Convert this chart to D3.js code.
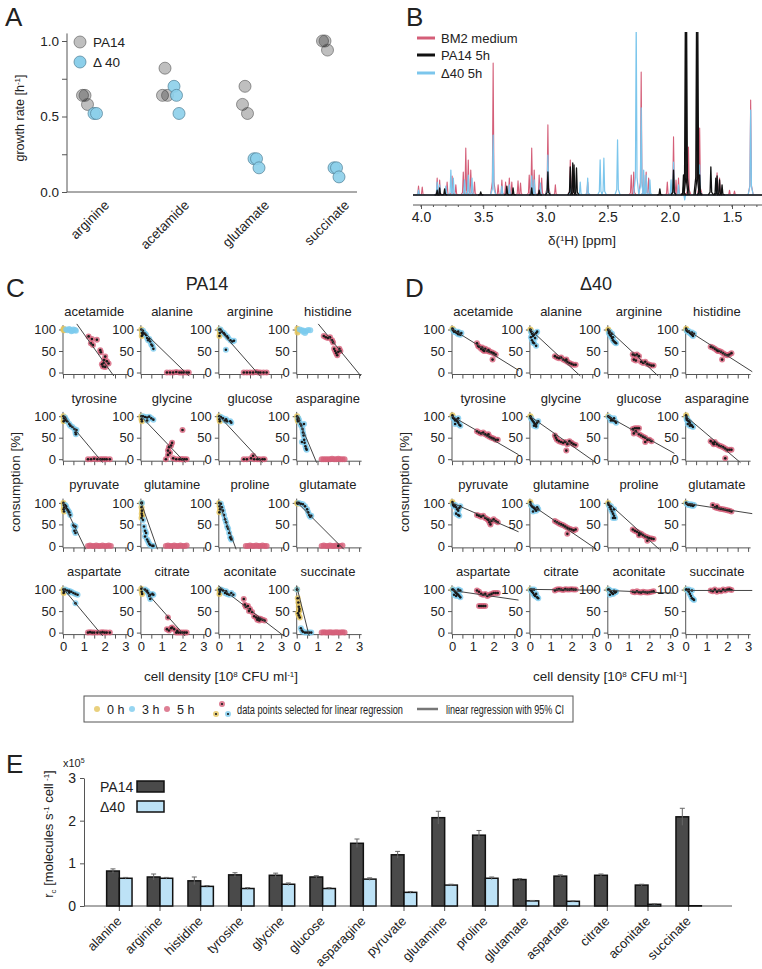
<!DOCTYPE html>
<html><head><meta charset="utf-8">
<script src="https://cdn.jsdelivr.net/npm/d3@7"></script>
<style>
body{margin:0;background:#fff;}
svg text{font-family:"Liberation Sans",Arial,sans-serif;fill:#222;}
</style></head><body>
<svg id="fig" width="762" height="969"></svg>
<script>
// ---------------- DATA ----------------
// Panel A: growth rates
const growthCats = ["arginine","acetamide","glutamate","succinate"];
const growthPA14 = [[0.64,0.64,0.58],[0.64,0.82,0.64],[0.58,0.70,0.52],[1.00,1.00,0.94]];
const growthD40  = [[0.52,0.52],[0.70,0.64,0.52],[0.22,0.22,0.16],[0.16,0.16,0.10]];
const growthTicks = [0,0.25,0.5,0.75,1];

// Panel B: NMR peak lists [ppm, intensity]
const bm2Peaks = [[4.02,5.6],[3.99,5],[3.87,10.6],[3.85,9.4],[3.79,8.1],[3.75,11.9],[3.72,6.3],[3.66,14.4],[3.64,29.4],[3.62,21.9],[3.60,15.6],[3.57,8.1],[3.42,82.5],[3.38,6.3],[3.35,9.4],[3.32,8.1],[3.29,10.6],[3.27,8.1],[3.22,8.8],[3.20,7.5],[3.13,12.5],[3.11,29.4],[3.09,15.6],[3.05,12.5],[3.03,10.6],[2.98,43.8],[2.92,6.3],[2.80,21.9],[2.78,16.9],[2.66,8.1],[2.31,12.5],[2.29,14.4],[2.23,76.9],[2.21,12.5],[2.19,14.4],[2.17,10.6],[2.02,8.1],[1.97,36.3],[1.95,9.4],[1.93,10.6],[1.85,30],[1.76,41.9],[1.62,13.8],[1.60,10.6],[1.52,3],[1.48,2.5],[1.35,59.4]];
const d40Peaks = [[4.02,3.1],[3.87,8.1],[3.85,6.3],[3.80,5.6],[3.76,15.6],[3.74,10.6],[3.65,9.4],[3.62,12.5],[3.59,10.6],[3.42,37.5],[3.35,5.6],[3.29,6.3],[3.11,11.9],[3.09,9.4],[3.04,7.5],[2.98,25],[2.80,10.6],[2.72,8.1],[2.66,10.6],[2.56,21.9],[2.53,23.1],[2.42,34.4],[2.27,110],[2.23,54.4],[2.21,15.6],[2.19,12.5],[2.16,9.4],[1.99,9.4],[1.97,20.6],[1.93,6.3],[1.88,-3],[1.76,18.8],[1.62,9.4],[1.35,53.1]];
const pa14Peaks = [[3.87,3],[3.85,4.4],[3.81,3.8],[3.52,1.9],[3.31,5.6],[3.26,4.4],[3.11,4.4],[3.05,3.1],[2.98,14.4],[2.80,17.5],[2.78,20],[2.77,18.8],[2.75,16.9],[2.08,3.8],[1.97,15.6],[1.89,12.5],[1.875,110],[1.865,110],[1.785,110],[1.775,110],[1.76,12.5],[1.67,17.5],[1.63,10.6],[1.62,11.9],[1.60,9.4],[1.58,6.3]];
const ppmMajor = [4.0,3.5,3.0,2.5,2.0,1.5];
const ppmMinor = [4.0,3.9,3.8,3.7,3.6,3.5,3.4,3.3,3.2,3.1,3.0,2.9,2.8,2.7,2.6,2.5,2.4,2.3,2.2,2.1,2.0,1.9,1.8,1.7,1.6,1.5,1.4,1.3];

// Panels C/D: consumption vs cell density; points [x, y, hour, selected]
const subNames = ["acetamide","alanine","arginine","histidine","tyrosine","glycine","glucose","asparagine","pyruvate","glutamine","proline","glutamate","aspartate","citrate","aconitate","succinate"];
const densTicks = [0,0.5,1,1.5,2,2.5,3];
const consTicks = [0,50,100];
const pa14Fit = [[158,-68],[101,-47],[101,-55],[174,-59],[102,-57.6],[100,-50.5],[101,-52],[103,-116],[101,-100],[102,-137],[102,-132],[102,-48.5],[103,-58],[108,-54.5],[108,-37],[108,-193]];
const d40Fit  = [[101,-30],[101,-45],[101,-45],[101,-31],[100,-28],[100,-34],[100,-27],[100,-41],[100,-21],[98,-33],[101,-44],[99,-7.5],[98,-7],[100.5,-0.6],[98,-2],[98,0]];
const pa14Pts = [
 [[0.03,102,0,0],[0.06,98,0,0],[0.02,99,0,0],[0.15,100,3,0],[0.22,98,3,0],[0.3,101,3,0],[0.35,99,3,0],[0.45,97,3,0],[0.5,100,3,0],[0.58,99,3,0],[0.62,97,3,0],[0.4,96,3,0],
  [1.23,84,5,1],[1.39,78,5,1],[1.34,68,5,1],[1.44,64,5,1],[1.63,76,5,1],[1.79,52,5,1],[1.82,47,5,1],[2.03,37,5,1],[1.95,22,5,1],[1.92,14,5,1],[2.03,13,5,1],[2.19,21,5,1],[2.11,26,5,1],[1.87,19,5,1],[1.98,29,5,1]],
 [[0.02,100,0,1],[0.05,92,0,1],[0.08,88,0,1],[0.04,85,0,1],[0.1,97,3,1],[0.15,92,3,1],[0.2,90,3,1],[0.25,87,3,1],[0.3,80,3,1],[0.35,75,3,1],[0.4,78,3,1],[0.45,72,3,1],[0.5,65,3,1],[0.55,62,3,1],[0.6,55,3,1],
  [1.25,0,5,1],[1.4,0,5,1],[1.55,0,5,1],[1.7,1,5,1],[1.85,0,5,1],[1.95,0,5,1],[2.05,0,5,1],[2.2,0,5,1],[2.3,0,5,1]],
 [[0.02,100,0,1],[0.05,92,0,1],[0.03,85,0,1],[0.08,100,3,1],[0.15,95,3,1],[0.24,92,3,1],[0.3,88,3,1],[0.4,84,3,1],[0.45,80,3,1],[0.56,75,3,1],[0.65,72,3,1],[0.73,74,3,1],[0.34,53,3,1],
  [1.2,0,5,1],[1.35,0,5,1],[1.5,0,5,1],[1.65,0,5,1],[1.8,1,5,1],[1.9,0,5,1],[2.0,0,5,1],[2.15,0,5,1],[2.3,0,5,1]],
 [[0.03,102,0,0],[0.06,97,0,0],[0.04,93,0,0],[0.15,100,3,0],[0.25,98,3,0],[0.35,97,3,0],[0.45,96,3,0],[0.55,99,3,0],[0.65,98,3,0],[0.4,92,3,0],[0.3,95,3,0],
  [1.3,85,5,1],[1.4,82,5,1],[1.5,80,5,1],[1.6,82,5,1],[1.7,75,5,1],[1.75,70,5,1],[1.8,55,5,1],[1.85,50,5,1],[1.9,45,5,1],[1.95,40,5,1],[2.0,48,5,1],[2.05,55,5,1],[2.1,50,5,1]],
 [[0.02,100,0,1],[0.05,95,0,1],[0.08,90,0,1],[0.03,88,0,1],[0.1,97,3,1],[0.15,92,3,1],[0.2,88,3,1],[0.3,82,3,1],[0.35,78,3,1],[0.45,75,3,1],[0.55,70,3,1],[0.6,62,3,1],[0.62,58,3,1],[0.65,68,3,1],
  [1.2,0,5,1],[1.35,0,5,1],[1.5,1,5,1],[1.65,0,5,1],[1.8,0,5,1],[1.9,0,5,1],[2.0,0,5,1],[2.1,0,5,1],[2.25,0,5,1]],
 [[0.02,100,0,1],[0.03,93,0,1],[0.05,88,0,1],[0.1,100,3,1],[0.2,98,3,1],[0.3,97,3,1],[0.4,99,3,1],[0.5,95,3,1],[0.6,92,3,1],[0.3,90,3,1],
  [1.3,20,5,1],[1.35,28,5,1],[1.45,32,5,1],[1.4,15,5,1],[1.5,38,5,1],[1.3,10,5,1],[1.2,0,5,1],[1.55,2,5,1],[1.7,0,5,1],[1.85,0,5,1],[1.95,0,5,1],[2.0,0,5,1],[2.1,0,5,1],[2.2,0,5,1],[2.0,68,5,1]],
 [[0.02,100,0,1],[0.03,93,0,1],[0.05,88,0,1],[0.1,98,3,1],[0.2,95,3,1],[0.3,90,3,1],[0.35,93,3,1],[0.4,88,3,1],[0.55,88,3,1],[0.6,85,3,1],
  [1.2,0,5,1],[1.35,0,5,1],[1.55,2,5,1],[1.65,8,5,1],[1.7,0,5,1],[1.85,0,5,1],[1.95,0,5,1],[2.1,0,5,1],[2.2,0,5,1]],
 [[0.02,100,0,1],[0.04,92,0,1],[0.06,88,0,1],[0.05,96,0,1],[0.08,95,3,1],[0.12,90,3,1],[0.18,82,3,1],[0.22,78,3,1],[0.28,70,3,1],[0.3,62,3,1],[0.33,55,3,1],[0.36,45,3,1],[0.38,38,3,1],[0.42,30,3,1],[0.45,25,3,1],[0.48,22,3,1],[0.25,40,3,1],[0.35,82,3,1],
  [1.2,0,5,0],[1.3,0,5,0],[1.4,0,5,0],[1.5,0,5,0],[1.6,0,5,0],[1.7,1,5,0],[1.8,0,5,0],[1.9,0,5,0],[2.0,1,5,0],[2.1,0,5,0],[2.2,0,5,0],[2.3,0,5,0]],
 [[0.02,100,0,1],[0.04,95,0,1],[0.06,90,0,1],[0.03,85,0,1],[0.05,80,0,1],[0.1,95,3,1],[0.15,92,3,1],[0.15,88,3,1],[0.2,85,3,1],[0.25,82,3,1],[0.3,78,3,1],[0.35,72,3,1],[0.5,48,3,1],[0.55,45,3,1],[0.6,45,3,1],[0.55,35,3,1],[0.6,30,3,1],
  [1.2,0,5,0],[1.3,1,5,0],[1.4,0,5,0],[1.5,0,5,0],[1.6,1,5,0],[1.7,0,5,0],[1.8,0,5,0],[1.9,1,5,0],[2.0,0,5,0],[2.1,0,5,0],[2.2,1,5,0],[2.3,0,5,0]],
 [[0.02,100,0,1],[0.03,90,0,1],[0.05,82,0,1],[0.04,75,0,1],[0.06,70,0,1],[0.03,65,0,1],[0.05,100,3,1],[0.1,60,3,1],[0.15,45,3,1],[0.2,35,3,1],[0.25,30,3,1],[0.2,22,3,1],[0.3,15,3,1],[0.35,10,3,1],[0.4,5,3,1],[0.45,2,3,1],[0.55,0,3,1],[0.6,0,3,1],
  [1.2,0,5,0],[1.3,1,5,0],[1.4,0,5,0],[1.5,0,5,0],[1.6,1,5,0],[1.7,0,5,0],[1.8,0,5,0],[1.9,1,5,0],[2.0,0,5,0],[2.1,0,5,0],[2.2,1,5,0]],
 [[0.02,100,0,1],[0.04,92,0,1],[0.06,85,0,1],[0.03,78,0,1],[0.1,98,3,1],[0.15,90,3,1],[0.2,82,3,1],[0.25,72,3,1],[0.3,62,3,1],[0.35,55,3,1],[0.4,45,3,1],[0.45,40,3,1],[0.5,30,3,1],[0.55,20,3,1],[0.6,15,3,1],[0.58,18,3,1],
  [1.3,0,5,0],[1.4,0,5,0],[1.5,1,5,0],[1.6,0,5,0],[1.7,0,5,0],[1.8,1,5,0],[1.9,0,5,0],[2.0,0,5,0],[2.1,1,5,0],[2.2,0,5,0],[2.3,0,5,0]],
 [[0.02,100,0,1],[0.05,98,0,1],[0.1,100,3,1],[0.2,98,3,1],[0.3,97,3,1],[0.4,92,3,1],[0.5,85,3,1],[0.55,78,3,1],[0.6,72,3,1],[0.7,70,3,1],[0.65,68,3,1],
  [1.2,0,5,0],[1.3,1,5,0],[1.4,0,5,0],[1.5,0,5,0],[1.6,1,5,0],[1.7,0,5,0],[1.8,0,5,0],[1.9,1,5,0],[2.0,0,5,1],[2.1,0,5,0],[2.2,1,5,0]],
 [[0.02,100,0,1],[0.05,95,0,1],[0.03,92,0,1],[0.1,100,3,1],[0.2,98,3,1],[0.3,97,3,1],[0.3,93,3,1],[0.4,95,3,1],[0.5,92,3,1],[0.6,90,3,1],[0.7,88,3,1],[0.6,68,3,1],
  [1.2,0,5,1],[1.3,1,5,1],[1.4,0,5,1],[1.5,0,5,1],[1.65,0,5,1],[1.8,0,5,1],[1.9,1,5,1],[2.0,0,5,1],[2.1,0,5,1],[2.25,0,5,1]],
 [[0.02,102,0,1],[0.04,95,0,1],[0.06,90,0,1],[0.2,100,3,1],[0.3,97,3,1],[0.35,92,3,1],[0.4,85,3,1],[0.45,88,3,1],[0.45,78,3,1],[0.55,90,3,1],[0.6,88,3,1],
  [1.3,35,5,1],[1.25,8,5,1],[1.35,5,5,1],[1.45,10,5,1],[1.5,12,5,1],[1.6,8,5,1],[1.7,0,5,1],[1.75,4,5,1],[1.8,0,5,1],[1.9,0,5,1],[2.0,0,5,1],[2.1,0,5,1],[2.2,0,5,1]],
 [[0.02,100,0,1],[0.05,95,0,1],[0.03,90,0,1],[0.1,100,3,1],[0.2,98,3,1],[0.3,92,3,1],[0.35,96,3,1],[0.4,90,3,1],[0.5,88,3,1],[0.6,92,3,1],[0.7,88,3,1],
  [1.2,78,5,1],[1.25,65,5,1],[1.3,60,5,1],[1.4,62,5,1],[1.45,50,5,1],[1.5,55,5,1],[1.6,48,5,1],[1.7,38,5,1],[1.8,35,5,1],[1.85,30,5,1],[1.9,33,5,1],[1.95,28,5,1],[2.0,32,5,1],[2.1,30,5,1],[2.2,28,5,1]],
 [[0.02,100,0,1],[0.05,80,0,1],[0.08,70,0,1],[0.1,60,0,1],[0.13,55,0,1],[0.12,50,0,1],[0.06,45,0,1],[0.1,40,0,1],[0.15,35,0,1],[0.02,100,3,1],[0.2,10,3,1],[0.25,5,3,1],[0.3,2,3,1],[0.4,0,3,1],[0.5,0,3,1],[0.6,0,3,1],[0.7,0,3,1],
  [1.2,0,5,0],[1.3,1,5,0],[1.4,0,5,0],[1.5,0,5,0],[1.6,1,5,0],[1.7,0,5,0],[1.8,0,5,0],[1.9,1,5,0],[2.0,0,5,0],[2.1,0,5,0],[2.2,1,5,0],[2.3,0,5,0]]
];
const d40Pts = [
 [[0.02,102,0,1],[0.05,100,0,1],[0.05,98,3,1],[0.1,95,3,1],[0.15,96,3,1],[0.2,93,3,1],[0.25,92,3,1],[0.3,95,3,1],[0.35,90,3,1],[0.4,88,3,1],[0.45,92,3,1],[0.3,89,3,1],
  [1.2,68,5,1],[1.25,62,5,1],[1.3,60,5,1],[1.4,55,5,1],[1.45,58,5,1],[1.5,52,5,1],[1.55,50,5,1],[1.6,55,5,1],[1.7,50,5,1],[1.75,52,5,1],[1.8,48,5,1],[1.9,47,5,1],[2.0,45,5,1],[2.1,42,5,1],[1.95,30,5,1]],
 [[0.02,100,0,1],[0.04,98,0,1],[0.05,95,3,1],[0.1,90,3,1],[0.15,85,3,1],[0.2,88,3,1],[0.25,80,3,1],[0.3,92,3,1],[0.35,95,3,1],[0.1,75,3,1],[0.15,70,3,1],[0.2,68,3,1],[0.3,62,3,1],[0.05,82,3,1],
  [1.2,38,5,1],[1.3,35,5,1],[1.4,33,5,1],[1.5,35,5,1],[1.6,30,5,1],[1.7,28,5,1],[1.75,30,5,1],[1.8,25,5,1],[1.9,22,5,1],[2.0,20,5,1],[2.1,18,5,1],[2.2,18,5,1]],
 [[0.02,100,0,1],[0.04,97,0,1],[0.05,92,3,1],[0.1,88,3,1],[0.15,85,3,1],[0.2,80,3,1],[0.25,75,3,1],[0.3,72,3,1],[0.35,70,3,1],[0.1,95,3,1],[0.2,90,3,1],[0.25,82,3,1],[0.4,68,3,1],
  [1.2,42,5,1],[1.3,40,5,1],[1.4,42,5,1],[1.5,38,5,1],[1.25,30,5,1],[1.35,28,5,1],[1.6,25,5,1],[1.7,22,5,1],[1.8,25,5,1],[1.9,20,5,1],[2.0,18,5,1],[2.1,16,5,1],[2.2,16,5,1]],
 [[0.02,102,0,1],[0.04,99,0,1],[0.05,97,3,1],[0.1,95,3,1],[0.15,96,3,1],[0.2,92,3,1],[0.25,90,3,1],[0.3,88,3,1],[0.35,85,3,1],[0.4,90,3,1],[0.3,93,3,1],
  [1.2,60,5,1],[1.3,58,5,1],[1.4,55,5,1],[1.5,52,5,1],[1.55,50,5,1],[1.6,50,5,1],[1.7,48,5,1],[1.8,45,5,1],[1.9,42,5,1],[2.0,40,5,1],[2.1,42,5,1],[2.2,45,5,1],[1.75,30,5,1]],
 [[0.02,102,0,1],[0.04,98,0,1],[0.05,96,3,1],[0.1,94,3,1],[0.15,90,3,1],[0.2,92,3,1],[0.25,88,3,1],[0.3,85,3,1],[0.35,80,3,1],[0.4,78,3,1],[0.3,95,3,1],[0.15,82,3,1],
  [1.2,65,5,1],[1.3,62,5,1],[1.4,60,5,1],[1.5,62,5,1],[1.6,58,5,1],[1.7,55,5,1],[1.75,58,5,1],[1.8,52,5,1],[1.9,50,5,1],[2.0,48,5,1],[2.1,45,5,1],[2.2,45,5,1]],
 [[0.02,100,0,1],[0.04,98,0,1],[0.05,95,3,1],[0.1,92,3,1],[0.15,88,3,1],[0.2,85,3,1],[0.25,82,3,1],[0.3,80,3,1],[0.35,85,3,1],[0.4,88,3,1],[0.2,78,3,1],[0.3,76,3,1],
  [1.2,55,5,1],[1.25,50,5,1],[1.3,45,5,1],[1.4,42,5,1],[1.5,40,5,1],[1.6,38,5,1],[1.7,40,5,1],[1.8,35,5,1],[1.9,42,5,1],[2.0,38,5,1],[2.1,35,5,1],[2.2,33,5,1],[1.75,20,5,1]],
 [[0.02,100,0,1],[0.05,98,3,1],[0.1,97,3,1],[0.15,95,3,1],[0.2,92,3,1],[0.25,90,3,1],[0.3,95,3,1],[0.35,88,3,1],[0.4,85,3,1],[0.15,90,3,1],
  [1.2,70,5,1],[1.3,72,5,1],[1.4,72,5,1],[1.5,72,5,1],[1.25,60,5,1],[1.35,65,5,1],[1.5,58,5,1],[1.6,55,5,1],[1.7,52,5,1],[1.8,50,5,1],[1.9,45,5,1],[2.0,45,5,1],[2.1,42,5,1],[1.8,40,5,1]],
 [[0.02,102,0,1],[0.04,98,0,1],[0.05,95,3,1],[0.1,90,3,1],[0.15,88,3,1],[0.2,85,3,1],[0.25,80,3,1],[0.3,78,3,1],[0.35,75,3,1],[0.1,82,3,1],[0.2,78,3,1],[0.05,92,3,1],
  [1.2,42,5,1],[1.3,38,5,1],[1.35,35,5,1],[1.4,40,5,1],[1.5,35,5,1],[1.6,32,5,1],[1.7,30,5,1],[1.8,28,5,1],[1.9,25,5,1],[2.0,22,5,1],[2.1,22,5,1],[2.2,22,5,1],[1.9,2,5,1]],
 [[0.02,102,0,1],[0.04,98,0,1],[0.05,95,3,1],[0.1,92,3,1],[0.15,95,3,1],[0.2,90,3,1],[0.25,85,3,1],[0.3,82,3,1],[0.35,88,3,1],[0.4,92,3,1],[0.2,75,3,1],[0.3,72,3,1],[0.35,70,3,1],
  [1.2,72,5,1],[1.3,70,5,1],[1.4,68,5,1],[1.5,70,5,1],[1.6,65,5,1],[1.7,62,5,1],[1.75,60,5,1],[1.8,55,5,1],[1.85,50,5,1],[1.9,58,5,1],[2.0,62,5,1],[2.1,58,5,1],[2.2,55,5,1]],
 [[0.02,102,0,1],[0.04,97,0,1],[0.05,95,3,1],[0.1,92,3,1],[0.15,90,3,1],[0.2,88,3,1],[0.25,85,3,1],[0.3,82,3,1],[0.35,90,3,1],[0.4,85,3,1],[0.15,80,3,1],
  [1.2,58,5,1],[1.3,55,5,1],[1.4,52,5,1],[1.5,50,5,1],[1.6,48,5,1],[1.7,45,5,1],[1.8,42,5,1],[1.9,40,5,1],[2.0,38,5,1],[2.1,36,5,1],[2.2,38,5,1],[1.8,28,5,1]],
 [[0.02,100,0,1],[0.04,96,0,1],[0.05,95,3,1],[0.1,90,3,1],[0.15,85,3,1],[0.2,80,3,1],[0.25,75,3,1],[0.3,70,3,1],[0.35,65,3,1],[0.25,65,3,1],[0.15,92,3,1],[0.3,85,3,1],
  [1.2,38,5,1],[1.3,35,5,1],[1.4,33,5,1],[1.5,30,5,1],[1.5,25,5,1],[1.6,28,5,1],[1.7,25,5,1],[1.8,22,5,1],[1.9,20,5,1],[1.9,12,5,1],[2.0,18,5,1],[2.1,17,5,1],[2.2,16,5,1]],
 [[0.02,100,0,1],[0.05,98,3,1],[0.1,96,3,1],[0.15,95,3,1],[0.2,97,3,1],[0.25,94,3,1],[0.3,96,3,1],[0.35,93,3,1],[0.4,95,3,1],
  [1.3,95,5,1],[1.4,90,5,1],[1.5,88,5,1],[1.5,92,5,1],[1.6,87,5,1],[1.7,86,5,1],[1.8,85,5,1],[1.9,84,5,1],[2.0,83,5,1],[2.1,82,5,1],[2.2,80,5,1]],
 [[0.02,100,0,1],[0.05,100,3,1],[0.1,98,3,1],[0.15,95,3,1],[0.2,92,3,1],[0.25,90,3,1],[0.3,88,3,1],[0.35,85,3,1],[0.4,82,3,1],[0.1,88,3,1],[0.2,85,3,1],[0.3,100,3,1],[0.4,98,3,1],
  [1.2,98,5,1],[1.3,95,5,1],[1.4,90,5,1],[1.5,88,5,1],[1.6,90,5,1],[1.7,85,5,1],[1.8,88,5,1],[1.9,90,5,1],[2.0,92,5,1],[2.1,92,5,1],[2.2,92,5,1],[1.3,62,5,1],[1.4,62,5,1],[1.5,62,5,1],[1.6,62,5,1]],
 [[0.02,100,0,1],[0.05,98,3,1],[0.1,95,3,1],[0.15,92,3,1],[0.2,88,3,1],[0.25,85,3,1],[0.3,90,3,1],[0.35,82,3,1],[0.4,80,3,1],[0.2,100,3,1],[0.1,100,3,1],
  [1.2,98,5,1],[1.3,100,5,1],[1.4,101,5,1],[1.5,100,5,1],[1.6,99,5,1],[1.7,101,5,1],[1.8,100,5,1],[1.9,100,5,1],[2.0,101,5,1],[2.1,100,5,1],[2.2,100,5,1]],
 [[0.02,100,0,1],[0.05,100,3,1],[0.1,98,3,1],[0.15,95,3,1],[0.2,92,3,1],[0.25,90,3,1],[0.3,97,3,1],[0.35,93,3,1],[0.4,95,3,1],[0.1,88,3,1],
  [1.2,95,5,1],[1.3,94,5,1],[1.4,96,5,1],[1.5,94,5,1],[1.6,93,5,1],[1.7,95,5,1],[1.8,94,5,1],[1.9,93,5,1],[2.0,94,5,1],[2.1,95,5,1],[2.2,96,5,1]],
 [[0.02,100,0,1],[0.05,100,3,1],[0.1,98,3,1],[0.15,95,3,1],[0.2,90,3,1],[0.25,85,3,1],[0.3,80,3,1],[0.35,78,3,1],[0.4,76,3,1],[0.15,100,3,1],[0.3,98,3,1],
  [1.2,98,5,1],[1.3,96,5,1],[1.4,100,5,1],[1.5,95,5,1],[1.6,98,5,1],[1.7,96,5,1],[1.8,100,5,1],[1.9,98,5,1],[2.0,100,5,1],[2.1,101,5,1],[2.2,99,5,1]]
];

// Panel E: consumption rates (x10^5 molecules s^-1 cell^-1)
const rateCats = ["alanine","arginine","histidine","tyrosine","glycine","glucose","asparagine","pyruvate","glutamine","proline","glutamate","aspartate","citrate","aconitate","succinate"];
const ratePA14    = [0.82,0.68,0.59,0.73,0.72,0.68,1.47,1.20,2.07,1.66,0.62,0.70,0.72,0.49,2.09];
const ratePA14Err = [0.05,0.07,0.09,0.05,0.05,0.03,0.10,0.08,0.15,0.11,0.02,0.03,0.03,0.02,0.20];
const rateD40     = [0.65,0.65,0.46,0.41,0.51,0.41,0.63,0.32,0.49,0.65,0.12,0.11,0,0.04,0.006];
const rateD40Err  = [0.02,0.02,0.02,0.02,0.03,0.02,0.03,0.02,0.02,0.03,0.01,0.01,0,0.01,0];
const rateTicks = [0,1,2,3];

// ---------------- DRAWING ----------------
const svg = d3.select("#fig");
const AX = "#555";
function styleAxis(g, fs){
  g.attr("font-size", fs).attr("font-family", null);
  g.selectAll(".tick line").attr("stroke", AX);
  g.select(".domain").attr("stroke", AX);
  g.selectAll(".tick text").attr("fill", "#222");
}
[["A",5,26],["B",406,26],["C",6,297],["D",405,297],["E",6,773]].forEach(([t,x,y]) =>
  svg.append("text").attr("x",x).attr("y",y).attr("font-size",26).text(t));

// ---- Panel A ----
(function(){
  const g = svg.append("g");
  const x = d3.scaleBand().domain(growthCats).range([50,370]);
  const y = d3.scaleLinear().domain([0,1]).range([192,41]);
  const ya = g.append("g").attr("transform","translate(67,0)")
    .call(d3.axisLeft(y).tickValues(growthTicks).tickSize(5).tickPadding(3).tickSizeOuter(0)
      .tickFormat(d => (d===0||d===0.5||d===1) ? d3.format(".1f")(d) : ""));
  styleAxis(ya, 13.5);
  ya.select(".domain").attr("d", `M0,${y(0)}V${y(1.05)}`);
  g.append("line").attr("x1",67).attr("x2",357).attr("y1",y(0)).attr("y2",y(0)).attr("stroke",AX);
  const cx = c => x(c) + x.bandwidth()/2;
  growthCats.forEach((c,ci) => {
    growthPA14[ci].forEach((v,i) => g.append("circle").attr("cx", cx(c)-7.5+i*2.5).attr("cy", y(v)).attr("r",6)
      .attr("fill","#000").attr("fill-opacity",0.25).attr("stroke","#555").attr("stroke-opacity",0.6));
    growthD40[ci].forEach((v,i) => g.append("circle").attr("cx", cx(c)+4+i*2.5).attr("cy", y(v)).attr("r",6)
      .attr("fill","#8ccfea").attr("fill-opacity",0.9).attr("stroke","#4f7f95").attr("stroke-opacity",0.7));
  });
  growthCats.forEach(c => g.append("text").attr("transform",`translate(${cx(c)+20},206) rotate(-45)`)
    .attr("text-anchor","end").attr("font-size",13.5).text(c));
  const yl = g.append("text").attr("transform","translate(24,118) rotate(-90)").attr("text-anchor","middle").attr("font-size",12.5);
  yl.append("tspan").text("growth rate [h");
  yl.append("tspan").attr("dy",-4).attr("font-size",8).text("-1");
  yl.append("tspan").attr("dy",4).text("]");
  g.append("circle").attr("cx",80).attr("cy",42).attr("r",6).attr("fill","#000").attr("fill-opacity",0.25).attr("stroke","#555").attr("stroke-opacity",0.6);
  g.append("circle").attr("cx",80).attr("cy",62).attr("r",6).attr("fill","#8ccfea").attr("stroke","#4f7f95").attr("stroke-opacity",0.7);
  g.append("text").attr("x",93).attr("y",47).attr("font-size",13.5).text("PA14");
  g.append("text").attr("x",93).attr("y",67).attr("font-size",13.5).text("Δ 40");
})();

// ---- Panel B ----
(function(){
  const g = svg.append("g");
  const x = d3.scaleLinear().domain([4.0,1.5]).range([421,732]);
  const y = d3.scaleLinear().domain([0,100]).range([195,35]);
  svg.append("defs").append("clipPath").attr("id","clipB").append("rect")
    .attr("x",413).attr("y",32).attr("width",349).attr("height",171);
  const sg = g.append("g").attr("clip-path","url(#clipB)");
  const spike = ([p,h]) => {
    const xc = x(p), y0 = y(0), ym = y(h*0.1), yt = y(h);
    return `M${xc-2.6},${y0}L${xc-0.8},${ym}L${xc},${yt}L${xc+0.8},${ym}L${xc+2.6},${y0}`;
  };
  [[bm2Peaks,"#d45e78",1.1],[d40Peaks,"#7cc6ec",1.2],[pa14Peaks,"#111",1.3]].forEach(([pk,col,w]) => {
    sg.append("line").attr("x1",413).attr("x2",762).attr("y1",y(0)).attr("y2",y(0)).attr("stroke",col).attr("stroke-width",w);
    sg.selectAll(null).data(pk).join("path").attr("d",spike).attr("fill","none").attr("stroke",col).attr("stroke-width",w).attr("stroke-linejoin","round");
  });
  const xa = g.append("g").attr("transform","translate(0,205)")
    .call(d3.axisBottom(x).tickValues(ppmMajor).tickFormat(d3.format(".1f")).tickSize(4).tickPadding(3).tickSizeOuter(0));
  styleAxis(xa, 14);
  xa.select(".domain").attr("d","M413,0H762");
  g.append("g").attr("transform","translate(0,205)").selectAll("line").data(ppmMinor).join("line")
    .attr("x1",d=>x(d)).attr("x2",d=>x(d)).attr("y1",0).attr("y2",2).attr("stroke",AX);
  const xl = g.append("text").attr("x",582).attr("y",245).attr("text-anchor","middle").attr("font-size",13.5);
  xl.append("tspan").text("δ(");
  xl.append("tspan").attr("dy",-4).attr("font-size",8).text("1");
  xl.append("tspan").attr("dy",4).text("H) [ppm]");
  [["BM2 medium","#d45e78",38],["PA14 5h","#111",55],["Δ40 5h","#7cc6ec",73]].forEach(([t,c,yy]) => {
    g.append("line").attr("x1",417).attr("x2",435).attr("y1",yy).attr("y2",yy).attr("stroke",c).attr("stroke-width",3);
    g.append("text").attr("x",441).attr("y",yy+4.5).attr("font-size",13).text(t);
  });
})();

// ---- Panels C / D ----
const hourColor = {0:"#e3c45c",3:"#7ccaee",5:"#d65f79"};
function drawGrid(offX, fits, pts, title){
  const g = svg.append("g");
  g.append("text").attr("x",offX+207).attr("y",290).attr("text-anchor","middle").attr("font-size",18).text(title);
  subNames.forEach((name,i) => {
    const c = i%4, r = Math.floor(i/4);
    const x0 = offX + 63 + c*77.9, y0 = 372.5 + r*86.7;
    const x = d3.scaleLinear().domain([0,3]).range([x0, x0+62.4]);
    const y = d3.scaleLinear().domain([0,100]).range([y0, y0-43]);
    const sg = g.append("g");
    sg.append("text").attr("x",x(1.5)).attr("y",y0-56.5).attr("text-anchor","middle").attr("font-size",13).text(name);
    const ya = sg.append("g").attr("transform",`translate(${x0},0)`)
      .call(d3.axisLeft(y).tickValues(consTicks).tickSize(4).tickPadding(3).tickSizeOuter(0));
    styleAxis(ya, 13);
    ya.select(".domain").attr("d",`M0,${y0+2}V${y(110)}`);
    const xa = sg.append("g").attr("transform",`translate(0,${y0+2})`)
      .call(d3.axisBottom(x).tickValues(densTicks).tickSize(4).tickPadding(3).tickSizeOuter(0)
        .tickFormat(d => (r===3 && Number.isInteger(d)) ? d : ""));
    styleAxis(xa, 13);
    xa.select(".domain").attr("d",`M${x0},0H${x(3.12)}`);
    sg.selectAll("circle.p").data(pts[i]).join("circle").attr("class","p")
      .attr("cx",d=>x(d[0])).attr("cy",d=>y(d[1])).attr("r",3)
      .attr("fill",d=>hourColor[d[2]]).attr("fill-opacity",0.8);
    sg.selectAll("circle.s").data(pts[i].filter(d=>d[3])).join("circle").attr("class","s")
      .attr("cx",d=>x(d[0])).attr("cy",d=>y(d[1])).attr("r",1.3).attr("fill","#1a1a1a");
    const [a,b] = fits[i];
    let xs = 0, xe = 3.2;
    if (b < 0){ xs = Math.max(0,(113-a)/b); xe = Math.min(3.2,(-8-a)/b); }
    sg.append("line").attr("x1",x(xs)).attr("y1",y(a+b*xs)).attr("x2",x(xe)).attr("y2",y(a+b*xe))
      .attr("stroke","#444").attr("stroke-width",1);
  });
  g.append("text").attr("transform",`translate(${offX+20},482) rotate(-90)`).attr("text-anchor","middle").attr("font-size",13.5).text("consumption [%]");
  const xl = g.append("text").attr("x",offX+221).attr("y",681).attr("text-anchor","middle").attr("font-size",13.5);
  xl.append("tspan").text("cell density [10");
  xl.append("tspan").attr("dy",-4).attr("font-size",8).text("8");
  xl.append("tspan").attr("dy",4).text(" CFU ml");
  xl.append("tspan").attr("dy",-4).attr("font-size",8).text("-1");
  xl.append("tspan").attr("dy",4).text("]");
}
drawGrid(0, pa14Fit, pa14Pts, "PA14");
drawGrid(389, d40Fit, d40Pts, "Δ40");

// Legend for C/D
(function(){
  const g = svg.append("g");
  g.append("rect").attr("x",84).attr("y",696).attr("width",489).attr("height",26).attr("fill","none").attr("stroke","#555");
  const ly = 709, nf = "'Liberation Sans Narrow','Liberation Sans',Arial,sans-serif";
  [[0,97,107,"0 h"],[3,132,142,"3 h"],[5,167,177,"5 h"]].forEach(([h,cx,tx,t]) => {
    g.append("circle").attr("cx",cx).attr("cy",ly).attr("r",3).attr("fill",hourColor[h]).attr("fill-opacity",0.8);
    g.append("text").attr("x",tx).attr("y",ly+4.5).attr("font-size",12.5).style("font-family",nf).text(t);
  });
  [[5,222,704],[0,216,714],[3,228,714]].forEach(([h,cx,cy]) => {
    g.append("circle").attr("cx",cx).attr("cy",cy).attr("r",3).attr("fill",hourColor[h]).attr("fill-opacity",0.8);
    g.append("circle").attr("cx",cx).attr("cy",cy).attr("r",1.1).attr("fill","#1a1a1a");
  });
  g.append("text").attr("x",237).attr("y",ly+4.5).attr("font-size",12.5).style("font-family",nf)
    .attr("textLength",166).attr("lengthAdjust","spacingAndGlyphs").text("data points selected for linear regression");
  g.append("line").attr("x1",417).attr("x2",438).attr("y1",ly).attr("y2",ly).attr("stroke","#777").attr("stroke-width",2.5);
  g.append("text").attr("x",446).attr("y",ly+4.5).attr("font-size",12.5).style("font-family",nf)
    .attr("textLength",118).attr("lengthAdjust","spacingAndGlyphs").text("linear regression with 95% CI");
})();

// ---- Panel E ----
(function(){
  const g = svg.append("g");
  const x = d3.scaleBand().domain(rateCats).range([99,709]);
  const y = d3.scaleLinear().domain([0,3]).range([906,778]);
  const bw = 12.7;
  const ya = g.append("g").attr("transform","translate(84,0)")
    .call(d3.axisLeft(y).tickValues(rateTicks).tickFormat(d3.format("d")).tickSize(4).tickPadding(4).tickSizeOuter(0));
  styleAxis(ya, 14);
  const xa = g.append("g").attr("transform","translate(0,906)")
    .call(d3.axisBottom(x).tickSize(5).tickFormat("").tickSizeOuter(0));
  styleAxis(xa, 13);
  xa.select(".domain").attr("d","M84,0H732");
  const cx = c => x(c) + x.bandwidth()/2;
  const series = [[ratePA14, ratePA14Err, "#4a4a4a", -bw],[rateD40, rateD40Err, "#bde2f6", 0]];
  series.forEach(([vals, errs, col, off]) => {
    g.selectAll(null).data(rateCats).join("rect")
      .attr("x", c => cx(c)+off).attr("width", bw)
      .attr("y", (c,i) => y(vals[i])).attr("height", (c,i) => y(0)-y(vals[i]))
      .attr("fill", col).attr("stroke","#111").attr("stroke-width",1.5)
      .attr("display",(c,i)=> vals[i] > 0 ? null : "none");
    rateCats.forEach((c,i) => {
      if (errs[i] <= 0) return;
      const xm = cx(c)+off+bw/2, yt = y(vals[i]+errs[i]), yb = y(vals[i]-errs[i]);
      g.append("line").attr("x1",xm).attr("x2",xm).attr("y1",yt).attr("y2",yb).attr("stroke","#666").attr("stroke-width",1);
      g.append("line").attr("x1",xm-2.5).attr("x2",xm+2.5).attr("y1",yt).attr("y2",yt).attr("stroke","#666").attr("stroke-width",1);
    });
  });
  rateCats.forEach(c => g.append("text").attr("transform",`translate(${cx(c)+3},922) rotate(-45)`)
    .attr("text-anchor","end").attr("font-size",13).text(c));
  const ex = g.append("text").attr("x",63).attr("y",767).attr("font-size",11);
  ex.append("tspan").text("x10");
  ex.append("tspan").attr("dy",-4).attr("font-size",7).text("5");
  const yl = g.append("text").attr("transform","translate(53,834) rotate(-90)").attr("text-anchor","middle").attr("font-size",13);
  yl.append("tspan").text("r");
  yl.append("tspan").attr("dy",3).attr("font-size",8).text("c");
  yl.append("tspan").attr("dy",-3).text(" [molecules s");
  yl.append("tspan").attr("dy",-4).attr("font-size",8).text("-1");
  yl.append("tspan").attr("dy",4).text("  cell");
  yl.append("tspan").attr("dy",-4).attr("font-size",8).text(" -1");
  yl.append("tspan").attr("dy",4).text("]");
  [["PA14","#4a4a4a",787],["Δ40","#bde2f6",807]].forEach(([t,col,yy]) => {
    g.append("text").attr("x",100).attr("y",yy+5).attr("font-size",14).text(t);
    g.append("rect").attr("x",137).attr("y",yy-6).attr("width",27).attr("height",11).attr("fill",col).attr("stroke","#111").attr("stroke-width",1.5);
  });
})();
</script></body></html>
